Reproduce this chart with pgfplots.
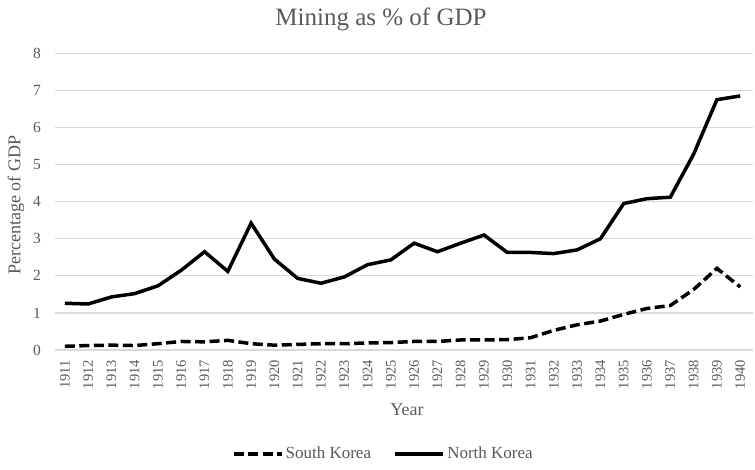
\documentclass[border=0pt]{standalone}
\usepackage{pgfplots}
\pgfplotsset{compat=1.18}
\usepackage{fontspec}
\setmainfont{Liberation Serif}
\definecolor{txt}{HTML}{595959}
\definecolor{grd}{HTML}{D9D9D9}
\begin{document}
\begin{tikzpicture}
\useasboundingbox (0pt,0pt) rectangle (755pt,470pt);
\begin{axis}[
  at={(55pt,120pt)}, anchor=south west,
  scale only axis, width=698pt, height=296.7pt,
  xmin=1910.58, xmax=1940.55, ymin=0, ymax=8,
  xtick={1911,...,1940}, ytick={0,...,8},
  /pgf/number format/assume math mode=true,
  x tick label style={/pgf/number format/1000 sep={}, rotate=90, anchor=east, font=\fontsize{14.5}{14.5}\selectfont, text=txt, inner sep=0pt},
  xticklabel shift=10pt,
  y tick label style={font=\fontsize{15.5}{15.5}\selectfont, text=txt, inner sep=0pt},
  yticklabel shift=14pt,
  major tick length=0pt,
  axis line style={draw=none},
  ymajorgrids, grid style={grd, line width=1.3pt},
  legend style={at={(0.47,-0.35)}, anchor=center, draw=none, legend columns=2,
    font=\fontsize{17}{17}\selectfont, text=txt,
    /tikz/every even column/.append style={column sep=20pt}},
  legend image code/.code={\draw[#1, line width=4.2pt] (0pt,0pt) -- (48pt,0pt);},
  clip=false,
]
\addplot[black, line width=3.5pt, dash pattern=on 10pt off 4.5pt] coordinates {
(1911,0.10) (1912,0.12) (1913,0.13) (1914,0.12) (1915,0.17) (1916,0.23)
(1917,0.22) (1918,0.26) (1919,0.17) (1920,0.13) (1921,0.15) (1922,0.17)
(1923,0.17) (1924,0.19) (1925,0.20) (1926,0.23) (1927,0.23) (1928,0.27)
(1929,0.27) (1930,0.28) (1931,0.33) (1932,0.53) (1933,0.68) (1934,0.78)
(1935,0.96) (1936,1.12) (1937,1.20) (1938,1.63) (1939,2.20) (1940,1.70)};
\addlegendentry{South Korea}
\addplot[black, line width=3.5pt] coordinates {
(1911,1.26) (1912,1.24) (1913,1.43) (1914,1.52) (1915,1.73) (1916,2.15)
(1917,2.65) (1918,2.12) (1919,3.42) (1920,2.45) (1921,1.93) (1922,1.80)
(1923,1.97) (1924,2.30) (1925,2.43) (1926,2.88) (1927,2.65) (1928,2.88)
(1929,3.10) (1930,2.63) (1931,2.63) (1932,2.60) (1933,2.70) (1934,3.00)
(1935,3.95) (1936,4.08) (1937,4.12) (1938,5.28) (1939,6.75) (1940,6.85)};
\addlegendentry{North Korea}
\end{axis}
\node[text=txt, font=\fontsize{25}{25}\selectfont] at (381pt,451pt) {Mining as \% of GDP};
\node[text=txt, font=\fontsize{18}{18}\selectfont] at (407pt,60pt) {Year};
\node[text=txt, font=\fontsize{18}{18}\selectfont, rotate=90] at (16pt,265pt) {Percentage of GDP};
\end{tikzpicture}
\end{document}
